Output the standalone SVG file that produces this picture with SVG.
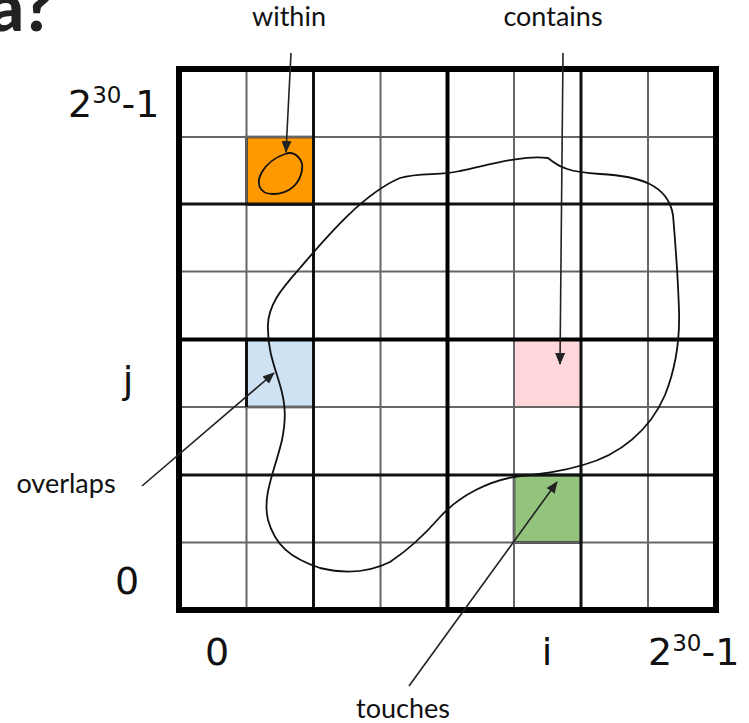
<svg xmlns="http://www.w3.org/2000/svg" width="749" height="723" viewBox="0 0 749 723">
<style>
.thin{stroke:#666;stroke-width:2;fill:none}
.mid{stroke:#111;stroke-width:3;fill:none}
.big{stroke:#000;stroke-width:4;fill:none}
.outer{stroke:#000;stroke-width:6;fill:none}
.cell{stroke:#111;stroke-width:2.5}
.lbl{font-family:Lato,"Liberation Sans",sans-serif;font-size:27px;fill:#111}
.ax{font-family:"DejaVu Sans",sans-serif;font-size:38px;fill:#111}
.arr{stroke:#222;stroke-width:1.6;fill:none;marker-end:url(#ah)}
.blob{stroke:#111;stroke-width:1.8;fill:none}
</style>
<defs>
<marker id="ah" markerWidth="12" markerHeight="10" refX="11" refY="5" orient="auto" markerUnits="userSpaceOnUse">
<path d="M0,0 L12,5 L0,10 Z" fill="#222"/>
</marker>
</defs>
<rect width="749" height="723" fill="#fff"/>
<text x="54" y="31" text-anchor="end" font-family="Lato,'Liberation Sans',sans-serif" font-weight="900" font-size="68" fill="#222">a?</text>

<g id="cells">
<rect id="orange" class="cell" x="246.5" y="137" width="67" height="67.5" fill="#ff9900"/>
<rect id="blue" class="cell" x="246.5" y="339.5" width="67" height="67.5" fill="#cfe2f3" stroke="none"/>
<rect id="pink" x="514" y="339.5" width="67" height="67.5" fill="#ffd6d9"/>
<rect id="green" class="cell" x="514" y="475" width="67" height="67.5" fill="#93c47d"/>
</g>

<g id="grid">
<path class="thin" d="M246.5,69V610M380.5,69V610M514,69V610M648,69V610M179,137H716M179,271.5H716M179,407H716M179,542.5H716"/>
<path class="mid" d="M313.5,69V610M581,69V610M179,204H716M179,475H716"/>
<path class="mid" d="M246.5,339.5V407M246.5,339.5H313.5M313.5,339.5V407"/>
<path class="big" d="M447.5,69V610M179,339.5H716"/>
<rect class="outer" x="179" y="69" width="537" height="541"/>
</g>

<g id="shapes">
<path class="blob" d="M268,330 C266,305 285,285 300,268 C320,245 360,195 400,178 C420,172 440,176 460,171 C490,165 520,155 548,158 C560,168 570,172 600,174 C640,176 668,185 673,215 C676,250 678,280 679,310 C680,340 675,370 665,395 C650,430 620,455 583,465 C560,472 540,474 520,476 C490,480 460,495 440,517 C420,540 405,552 390,562 C370,572 345,574 320,568 C290,558 275,545 268,520 C262,495 275,470 282,440 C286,420 286,405 280,385 C274,365 268,350 268,330 Z"/>
<path class="blob" d="M285,154 C295,150 304,160 302,170 C300,183 290,194 273,194 C258,194 256,182 262,172 C268,162 276,157 285,154 Z"/>
</g>

<g id="connectors">
<line class="arr" x1="291" y1="53" x2="286" y2="152"/>
<line class="arr" x1="563" y1="53" x2="560" y2="364"/>
<line class="arr" x1="142" y1="486" x2="274" y2="373"/>
<line class="arr" x1="409" y1="686" x2="557" y2="482"/>
</g>

<g id="labels">
<text class="lbl" x="289" y="26" text-anchor="middle">within</text>
<text class="lbl" x="553" y="26" text-anchor="middle">contains</text>
<text class="lbl" x="66" y="493" text-anchor="middle">overlaps</text>
<text class="lbl" x="403" y="718" text-anchor="middle">touches</text>
<text class="ax" x="68" y="117"><tspan>2</tspan><tspan font-size="23" dy="-14">30</tspan><tspan dy="14">-1</tspan></text>
<text class="ax" x="648" y="665"><tspan>2</tspan><tspan font-size="23" dy="-14">30</tspan><tspan dy="14">-1</tspan></text>
<text class="ax" x="547" y="665" text-anchor="middle">i</text>
<text class="ax" x="217" y="665" text-anchor="middle">0</text>
<text class="ax" x="127" y="594" text-anchor="middle" font-size="32">0</text>
<text class="ax" x="128" y="393" text-anchor="middle" font-size="34">j</text>
</g>
</svg>
